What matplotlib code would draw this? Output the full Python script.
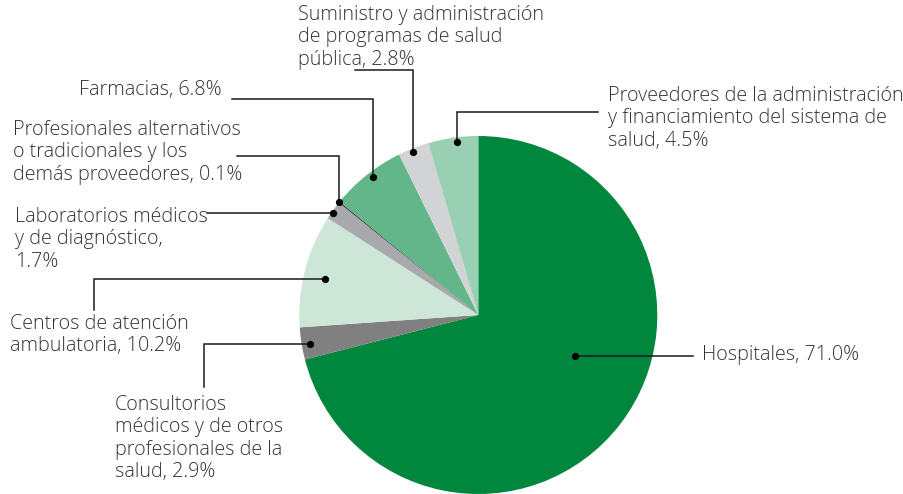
import matplotlib
matplotlib.use("Agg")
import matplotlib.pyplot as plt
import numpy as np

# ---- data ----
categories = [
    "Hospitales",
    "Consultorios médicos y de otros profesionales de la salud",
    "Centros de atención ambulatoria",
    "Laboratorios médicos y de diagnóstico",
    "Profesionales alternativos o tradicionales y los demás proveedores",
    "Farmacias",
    "Suministro y administración de programas de salud pública",
    "Proveedores de la administración y financiamiento del sistema de salud",
]
values = [71.0, 2.9, 10.2, 1.7, 0.1, 6.8, 2.8, 4.5]
labels = [
    "Hospitales, 71.0%",
    "Consultorios\nmédicos y de otros\nprofesionales de la\nsalud, 2.9%",
    "Centros de atención\nambulatoria, 10.2%",
    "Laboratorios médicos\ny de diagnóstico,\n1.7%",
    "Profesionales alternativos\no tradicionales y los\ndemás proveedores, 0.1%",
    "Farmacias, 6.8%",
    "Suministro y administración\nde programas de salud\npública, 2.8%",
    "Proveedores de la administración\ny financiamiento del sistema de\nsalud, 4.5%",
]

# ---- style / layout ----
colors = ["#00873d", "#808080", "#cde6d8", "#a7a9ac", "#231f20",
          "#63b58a", "#d1d3d4", "#99cfb2"]
W, H = 904, 494
CX, CY, R = 478.3, 315.0, 179.0

# dot placement inside each wedge: (fraction along wedge angle, radial fraction)
dot_pos = [(0.559, 0.587), (0.56, 0.955), (0.535, 0.88), (0.63, 0.99),
           (0.5, 1.0), (0.46, 0.97), (0.56, 0.98), (0.44, 0.975)]
# leader line shapes (pixel coords, y from top)
leaders = [("h", 693, None), ("hv", 204, 387), ("hv", 94, 310), ("h", 207, None),
           ("vh", 237, 156), ("vh", 232, 99), ("vh", 355, 70), ("vh", 598, 112)]
# text placement: (x, y_top_px, ha)
text_pos = [(702, 345, "left"), (115, 395, "left"), (10, 314, "left"), (15, 207, "left"),
            (13, 120, "left"), (222, 80, "right"), (298, 5, "left"), (608, 86, "left")]

plt.rcParams["font.family"] = ["Open Sans", "DejaVu Sans"]

fig = plt.figure(figsize=(W / 100, H / 100), dpi=100)
ax = fig.add_axes([0, 0, 1, 1])

def Y(yp):
    return H - yp

wedges, _ = ax.pie(values, colors=colors, startangle=90, counterclock=False,
                   center=(CX, Y(CY)), radius=R, frame=True,
                   wedgeprops=dict(linewidth=0))
ax.set_xlim(0, W)
ax.set_ylim(0, H)
ax.axis("off")

for w, (fa, fr), (kind, a, b), (tx, ty, ha), lab in zip(wedges, dot_pos, leaders, text_pos, labels):
    ang = np.deg2rad(w.theta1 + fa * (w.theta2 - w.theta1))
    dx = CX + fr * R * np.cos(ang)
    dy = Y(CY) + fr * R * np.sin(ang)
    if kind == "h":
        xs, ys = [dx, a], [dy, dy]
    elif kind == "hv":
        xs, ys = [dx, a, a], [dy, dy, Y(b)]
    else:
        xs, ys = [dx, dx, a], [dy, Y(b), Y(b)]
    ax.plot(xs, ys, color="#1a1a1a", lw=1.1, solid_joinstyle="miter", zorder=5)
    ax.plot([dx], [dy], "o", color="#000000", ms=4.2, zorder=6)
    ax.text(tx, Y(ty), lab, ha=ha, va="top", fontsize=14.2, color="#333333",
            fontweight="light", linespacing=1.16, zorder=7)

fig.savefig("out.png", dpi=100)
